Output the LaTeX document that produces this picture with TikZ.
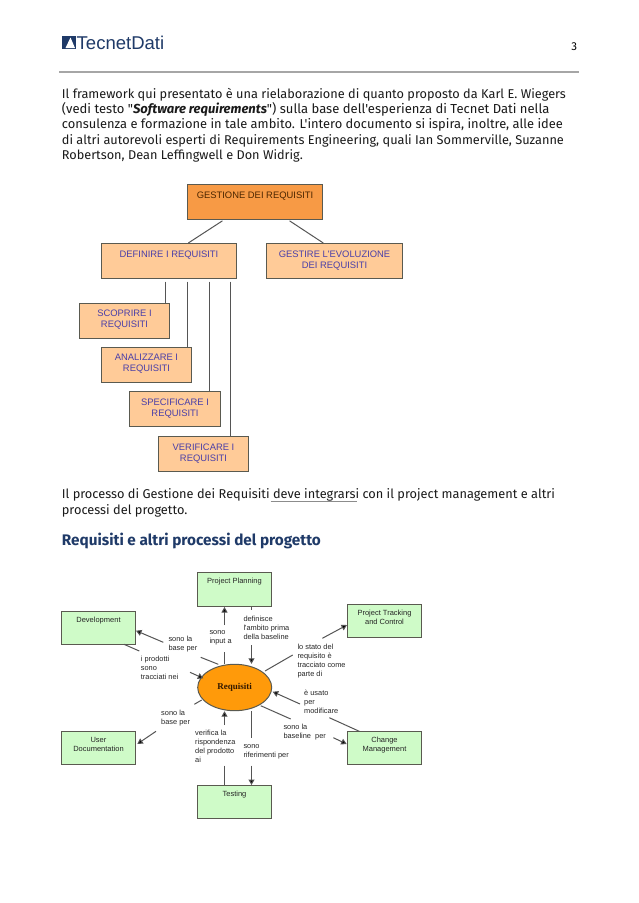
\documentclass[tikz,border=0pt]{standalone}
\usepackage{fontspec}
\usepackage{graphicx}
\setmainfont{Fira Sans}
\newfontfamily\bodyf{Fira Sans}
\newfontfamily\arialf{Liberation Sans}
\newfontfamily\timesf{Liberation Serif}
\usetikzlibrary{arrows.meta,shapes.geometric}
\definecolor{navy}{HTML}{1F3A68}
\definecolor{bodytxt}{HTML}{1A1A1A}
\definecolor{orangetop}{HTML}{F79A45}
\definecolor{orangelt}{HTML}{FFCB98}
\definecolor{greenlt}{HTML}{CFFBC8}
\definecolor{ellorange}{HTML}{FF9A0A}
\definecolor{purplet}{HTML}{4A3FA8}
\definecolor{edge}{HTML}{5A5A50}
\definecolor{conn}{HTML}{555555}
\newcommand{\btxt}[4]{\parbox[c][#2pt][t]{#1pt}{\centering\vspace*{#3pt}#4\par}}
\newcommand{\tline}[5][]{\node[bodyline,#1] (#2) at #3 {\resizebox{#4pt}{!}{#5}};}
\tikzset{
  bodyline/.style={anchor=base west,inner sep=0pt,text=bodytxt,font=\bodyf\fontsize{11.5}{13}\selectfont},
  treebox/.style={draw=edge,line width=1pt,fill=orangelt,inner sep=0pt,text=purplet,font=\arialf\fontsize{9.4}{11.6}\selectfont},
  topbox/.style={treebox,fill=orangetop,text=black!70!orange},
  greenbox/.style={draw=edge,line width=1pt,fill=greenlt,inner sep=0pt,text=black!85,font=\arialf\fontsize{7.5}{9}\selectfont},
  lbl/.style={anchor=north west,inner sep=0pt,align=left,text=black!85,font=\arialf\fontsize{7.4}{9}\selectfont},
  treeline/.style={draw=conn,line width=1pt},
  cline/.style={draw=conn,line width=1pt},
  carrow/.style={cline,-{Triangle[length=5.5pt,width=6pt,fill=black]}},
}
\begin{document}
\begin{tikzpicture}[x=1pt,y=-1pt]
\useasboundingbox (0,0) rectangle (638,903);
\fill[white] (0,0) rectangle (638,903);
% header
\fill[navy] (62.3,35.7) rectangle (76,49);
\fill[white] (70.5,37.5) -- (75,48) -- (65.5,48) -- cycle;
\node[anchor=base west,inner sep=0pt,text=navy] (logo) at (76.5,49) {\resizebox{87.5pt}{!}{\arialf\fontsize{17}{20}\selectfont TecnetDati}};
\node[anchor=base,inner sep=0pt,text=black,font=\bodyf\fontsize{11.5}{13}\selectfont] (pageno) at (574.3,50) {3};
\draw[line width=1.3pt,draw=black!35] (59.3,72) -- (579,72);
% paragraph 1
\tline{p1}{(61.7,98.5)}{504}{Il framework qui presentato è una rielaborazione di quanto proposto da Karl E. Wiegers}
\tline{p2}{(61.7,113.5)}{487.5}{(vedi testo "{\bfseries\itshape Software requirements}") sulla base dell'esperienza di Tecnet Dati nella}
\tline{p3}{(61.7,128.8)}{501}{consulenza e formazione in tale ambito. L'intero documento si ispira, inoltre, alle idee}
\tline{p4}{(61.7,144)}{502}{di altri autorevoli esperti di Requirements Engineering, quali Ian Sommerville, Suzanne}
\tline{p5}{(61.7,159.5)}{241}{Robertson, Dean Leffingwell e Don Widrig.}
% tree
\node[topbox] (gest) at (255,202) {\btxt{135}{35}{7.6}{GESTIONE DEI REQUISITI}};
\node[treebox] (def) at (169,261) {\btxt{135}{35}{7.3}{DEFINIRE I REQUISITI}};
\node[treebox] (evo) at (334.5,261) {\btxt{136}{35}{7.3}{GESTIRE L'EVOLUZIONE\\DEI REQUISITI}};
\node[treebox] (sco) at (124.5,321) {\btxt{90}{35}{6.3}{SCOPRIRE I\\REQUISITI}};
\node[treebox] (ana) at (146.5,365) {\btxt{90}{35}{6.3}{ANALIZZARE I\\REQUISITI}};
\node[treebox] (spe) at (175,409) {\btxt{91}{35}{7}{SPECIFICARE I\\REQUISITI}};
\node[treebox] (ver) at (203.5,454) {\btxt{90}{35}{7}{VERIFICARE I\\REQUISITI}};
\coordinate (g1) at (223.7,0); \coordinate (g2) at (188.3,0);
\coordinate (g3) at (288.3,0); \coordinate (g4) at (323.3,0);
\coordinate (v1) at (165.5,0); \coordinate (v2) at (187.5,0);
\coordinate (v3) at (209.5,0); \coordinate (v4) at (230.5,0);
\draw[treeline,shorten <=1.5pt] (gest.south -| g1) -- (def.north -| g2);
\draw[treeline,shorten <=1.5pt] (gest.south -| g3) -- (evo.north -| g4);
\draw[treeline,shorten <=2.5pt] (def.south -| v1) -- (sco.north -| v1);
\draw[treeline,shorten <=2.5pt] (def.south -| v2) -- (ana.north -| v2);
\draw[treeline,shorten <=2.5pt] (def.south -| v3) -- (spe.north -| v3);
\draw[treeline,shorten <=2.5pt] (def.south -| v4) -- (ver.north -| v4);
% paragraph 2
\tline{q1}{(61.7,498.3)}{493}{Il processo di Gestione dei Requisiti deve integrarsi con il project management e altri}
\draw[line width=0.7pt,draw=black!45] (270.7,501.5) -- (357,501.5);
\tline{q2}{(61.7,514)}{125.5}{processi del progetto.}
\node[anchor=base west,inner sep=0pt,text=navy] (head) at (61.7,545) {\resizebox{259pt}{!}{\bodyf\fontsize{14}{16}\selectfont\bfseries Requisiti e altri processi del progetto}};
% diagram
\node[ellipse,draw=edge,line width=1pt,fill=ellorange,minimum width=74pt,minimum height=46.4pt,inner sep=0pt,font=\timesf\bfseries\fontsize{9}{10}\selectfont,text=black!80!orange] (req) at (234.7,687.5) {Requisiti};
\node[greenbox] (pp) at (234.5,589.5) {\btxt{74}{34}{6}{Project Planning}};
\node[greenbox] (dev) at (98.5,628) {\btxt{74}{33}{5.5}{Development}};
\node[greenbox] (trk) at (384.5,621) {\btxt{74}{33}{5.5}{Project Tracking\\and Control}};
\node[greenbox] (usr) at (98.5,748) {\btxt{74}{33}{6}{User\\Documentation}};
\node[greenbox] (tst) at (234.5,802) {\btxt{74}{33}{5.7}{Testing}};
\node[greenbox] (chg) at (384.5,748) {\btxt{74}{33}{6}{Change\\Management}};
% labels
\node[lbl] (l1) at (209.3,630) {sono\\input a};
\node[lbl] (l2) at (243.3,615.5) {definisce\\l'ambito prima\\della baseline};
\node[lbl] (l3) at (168.3,635.8) {sono la\\base per};
\node[lbl] (l4) at (140.7,656) {i prodotti\\sono\\tracciati nei};
\node[lbl] (l5) at (297.3,643.5) {lo stato del\\requisito è\\tracciato come\\parte di};
\node[lbl] (l6) at (304,690) {è usato\\per\\modificare};
\node[lbl] (l7) at (283.3,723.8) {sono la\\baseline\ \ per};
\node[lbl] (l8) at (243.3,744.5) {sono\\riferimenti per};
\node[lbl] (l9) at (195,730) {verifica la\\rispondenza\\del prodotto\\ai};
\node[lbl] (l10) at (161,709.5) {sono la\\base per};
% connector ends
\coordinate (a1) at (224.5,625);   \coordinate (a2) at (224.5,652.3);
\coordinate (b1) at (251.5,610);   \coordinate (b2) at (251.5,645);
\coordinate (c1) at (163.3,642.3); \coordinate (c2) at (136,630.7);
\coordinate (c3) at (200.7,657.3); \coordinate (c4) at (218.3,664.3);
\coordinate (d1) at (124,644.3);   \coordinate (d2) at (139.3,651);
\coordinate (d3) at (190,672.3);   \coordinate (d4) at (203.3,678.3);
\coordinate (e1) at (322.3,638.3); \coordinate (e2) at (347,625);
\coordinate (e3) at (292.7,655);   \coordinate (e4) at (265,671);
\coordinate (f1) at (300,704);     \coordinate (f2) at (272.7,691.7);
\coordinate (f3) at (329.3,717.7); \coordinate (f4) at (359.3,731.3);
\coordinate (h1) at (260.7,705.7); \coordinate (h2) at (290.7,719);
\coordinate (h3) at (333.3,737.7); \coordinate (h4) at (346.7,744);
\coordinate (i1) at (251.5,738.3); \coordinate (i2) at (251.5,765.7);
\coordinate (j1) at (224.5,725);   \coordinate (j2) at (224.5,765.7);
\coordinate (k1) at (156,731.3);   \coordinate (k2) at (137.3,744);
\coordinate (k3) at (194.3,704.3); \coordinate (k4) at (201.7,700);
% connectors
\draw[carrow] (a1) -- (a1 |- pp.south);
\draw[cline] (a2) -- (a2 |- req.north);
\draw[cline] (b1 |- pp.south) -- (b1);
\draw[carrow] (b2) -- (b2 |- req.north);
\draw[carrow] (c1) -- (c2);
\draw[cline] (c3) -- (c4);
\draw[cline] (d1) -- (d2);
\draw[carrow] (d3) -- (d4);
\draw[carrow] (e1) -- (e2);
\draw[cline] (e3) -- (e4);
\draw[carrow] (f1) -- (f2);
\draw[cline] (f3) -- (f4);
\draw[cline] (h1) -- (h2);
\draw[carrow] (h3) -- (h4);
\draw[cline] (i1 |- req.south) -- (i1);
\draw[carrow] (i2) -- (i2 |- tst.north);
\draw[carrow] (j1) -- (j1 |- req.south);
\draw[cline] (j2) -- (j2 |- tst.north);
\draw[carrow] (k1) -- (k2);
\draw[cline] (k3) -- (k4);
\end{tikzpicture}
\end{document}
